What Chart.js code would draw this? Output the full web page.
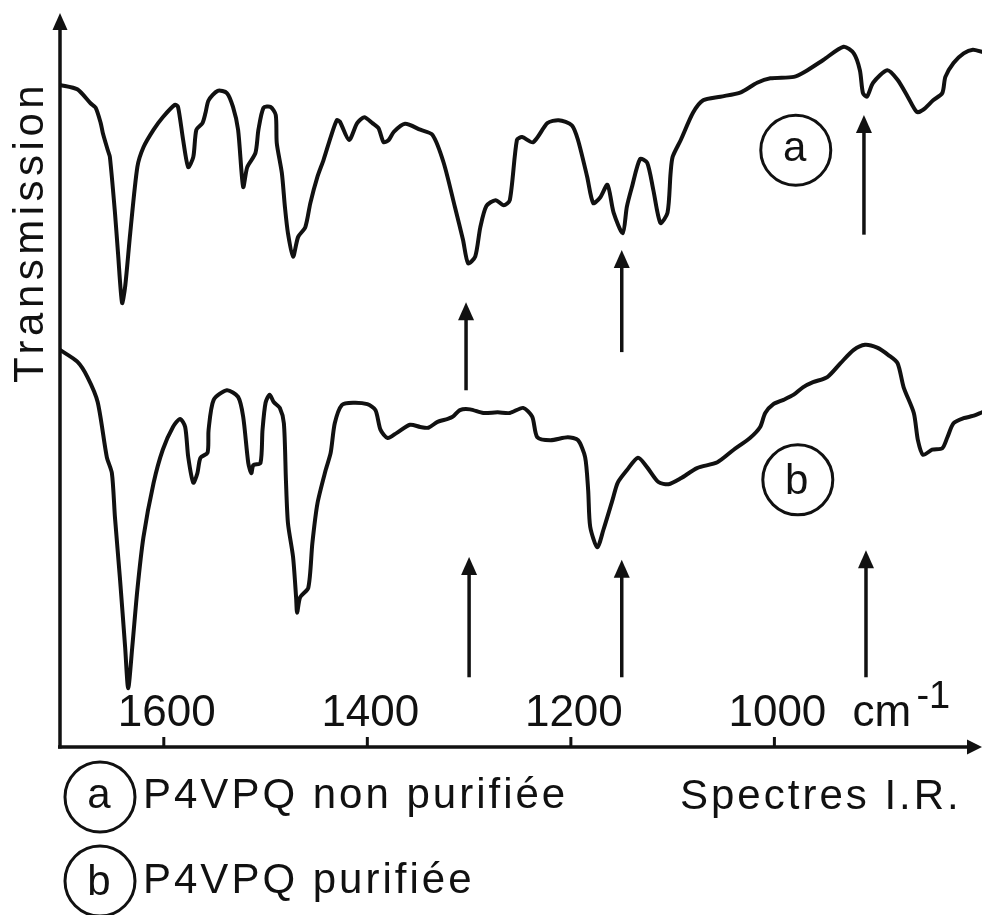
<!DOCTYPE html>
<html>
<head>
<meta charset="utf-8">
<title>Spectres I.R.</title>
<script src="https://cdn.jsdelivr.net/npm/chart.js@4/dist/chart.umd.min.js"></script>
<style>
    html, body { margin: 0; padding: 0; background: #fff; overflow: hidden; }
    canvas { display: block; }
</style>
</head>
<body>
<canvas id="chart" width="982" height="915"></canvas>
<script>
// Spectre a : P4VPQ non purifiée (nombre d'onde en cm-1, transmission en unités arbitraires)
const waveA = [
    1702, 1685, 1672, 1667, 1662, 1660, 1655, 1653, 1648, 1645,
    1641, 1638, 1633, 1626, 1620, 1610, 1601, 1589, 1586, 1581,
    1576, 1571, 1568, 1562, 1559, 1556, 1547, 1538, 1532, 1527,
    1522, 1518, 1510, 1507, 1502, 1495, 1490, 1489, 1484, 1481,
    1478, 1473, 1468, 1461, 1456, 1449, 1443, 1436, 1430, 1427,
    1418, 1410, 1403, 1395, 1389, 1384, 1379, 1374, 1363, 1348,
    1336, 1325, 1314, 1306, 1301, 1294, 1289, 1283, 1274, 1266,
    1260, 1253, 1248, 1237, 1223, 1212, 1199, 1193, 1184, 1178,
    1171, 1164, 1158, 1149, 1145, 1140, 1132, 1125, 1119, 1112,
    1105, 1102, 1100, 1092, 1080, 1070, 1053, 1033, 1017, 1004,
    981, 970, 952, 932, 922, 916, 913, 909, 903, 889,
    879, 869, 860, 854, 844, 835, 832, 824, 814, 805,
    796
]
const transA = [
    90.2, 89.6, 87.7, 87.1, 85.0, 83.7, 81.3, 80.4, 72.8, 67.3,
    60.5, 62.7, 70.0, 79.0, 81.7, 84.1, 85.8, 87.5, 87.2, 82.7,
    79.0, 80.4, 84.1, 85.0, 86.4, 88.1, 89.4, 89.1, 87.2, 84.1,
    76.3, 79.0, 80.9, 84.1, 87.1, 87.2, 86.1, 82.3, 78.2, 73.6,
    70.0, 66.8, 69.5, 70.8, 74.1, 77.7, 80.0, 83.1, 85.4, 85.2,
    82.7, 85.0, 85.8, 85.0, 84.3, 82.4, 82.7, 83.8, 84.9, 84.1,
    83.4, 79.6, 73.6, 69.1, 65.9, 66.8, 70.8, 73.7, 74.5, 73.8,
    74.5, 82.7, 83.1, 82.4, 85.0, 85.4, 84.7, 82.7, 77.7, 74.1,
    74.9, 76.6, 72.8, 70.0, 73.6, 76.3, 80.1, 79.6, 75.9, 71.4,
    72.8, 78.2, 80.4, 82.7, 86.4, 88.1, 88.6, 89.2, 90.5, 91.1,
    91.3, 92.0, 93.6, 95.4, 94.5, 92.2, 89.1, 88.6, 90.5, 92.2,
    90.9, 88.6, 86.5, 86.8, 88.1, 89.1, 91.3, 93.2, 94.5, 95.0,
    94.7
]

// Spectre b : P4VPQ purifiée
const waveB = [
    1702, 1685, 1675, 1665, 1656, 1651, 1648, 1643, 1638, 1635,
    1631, 1626, 1620, 1610, 1601, 1591, 1584, 1579, 1576, 1571,
    1567, 1564, 1557, 1556, 1551, 1538, 1527, 1522, 1517, 1514,
    1512, 1505, 1503, 1500, 1496, 1492, 1486, 1482, 1480, 1478,
    1473, 1470, 1469, 1466, 1458, 1454, 1449, 1441, 1436, 1432,
    1425, 1414, 1400, 1392, 1387, 1380, 1371, 1358, 1348, 1340,
    1331, 1321, 1316, 1309, 1299, 1286, 1272, 1260, 1247, 1238,
    1233, 1220, 1203, 1193, 1186, 1183, 1181, 1174, 1168, 1159,
    1154, 1145, 1134, 1125, 1114, 1104, 1092, 1076, 1056, 1040,
    1024, 1014, 1009, 1001, 991, 981, 972, 962, 948, 935,
    922, 911, 899, 888, 879, 873, 863, 859, 854, 845,
    835, 830, 824, 814, 805, 796
]
const transB = [
    54.1, 52.5, 50.4, 47.0, 39.5, 37.3, 31.3, 22.8, 13.6, 8.0,
    13.6, 21.4, 28.6, 36.0, 40.5, 43.6, 44.7, 43.6, 39.5, 36.0,
    37.3, 39.4, 40.1, 43.2, 47.3, 48.6, 47.7, 45.0, 38.7, 37.3,
    38.4, 38.7, 43.2, 46.9, 48.0, 47.0, 46.2, 44.1, 36.4, 30.5,
    25.9, 20.4, 18.3, 20.4, 21.7, 27.8, 33.2, 37.7, 40.1, 44.1,
    46.6, 46.9, 46.7, 45.9, 43.2, 42.1, 42.8, 43.9, 43.6, 43.5,
    44.3, 44.7, 45.0, 45.9, 46.0, 45.5, 45.6, 45.5, 46.2, 45.0,
    42.2, 41.8, 42.2, 41.8, 39.5, 35.0, 30.0, 27.2, 29.6, 33.7,
    36.0, 37.7, 39.4, 38.1, 36.1, 35.8, 36.6, 38.0, 38.8, 40.5,
    42.1, 43.6, 45.5, 46.7, 47.3, 48.0, 49.0, 49.7, 50.4, 52.3,
    54.1, 54.8, 54.4, 53.4, 52.3, 49.0, 45.5, 41.8, 39.8, 40.5,
    40.7, 42.2, 44.1, 44.8, 45.1, 45.6
]

// Bandes signalées par des flèches (pied et pointe en transmission)
const arrowWaveA = [1303, 1150, 912]
const arrowTailA = [48.6, 53.8, 69.8]
const arrowTipA = [60.6, 67.7, 86.1]
const arrowWaveB = [1300, 1150, 910]
const arrowTailB = [9.5, 9.5, 9.5]
const arrowTipB = [25.9, 25.5, 26.8]

// Repères cerclés posés à côté de chaque courbe
const tagKeys = ['a', 'b']
const tagWave = [979, 977]
const tagTrans = [81.3, 36.4]

const seriesNames = ['P4VPQ non purifiée', 'P4VPQ purifiée']
const tickValues = [1600, 1400, 1200, 1000]
const tickLabels = ['1600', '1400', '1200', '1000']
const xUnit = 'cm'
const yTitle = 'Transmission'
const chartTitle = 'Spectres I.R.'

const INK = '#111'
const FONT = '"Liberation Sans", Arial, sans-serif'

const toPoints = (xs, ys) => xs.map((x, i) => ({ x, y: ys[i] }))

function setSpacing(ctx, px) {
    if ('letterSpacing' in ctx) ctx.letterSpacing = px + 'px'
}

function drawArrow(ctx, x, yTail, yTip) {
    const head = 18
    ctx.beginPath()
    ctx.moveTo(x, yTail)
    ctx.lineTo(x, yTip + head - 2)
    ctx.stroke()
    ctx.beginPath()
    ctx.moveTo(x, yTip)
    ctx.lineTo(x - 8, yTip + head)
    ctx.lineTo(x + 8, yTip + head)
    ctx.closePath()
    ctx.fill()
}

function drawTag(ctx, cx, cy, key) {
    ctx.beginPath()
    ctx.arc(cx, cy, 35, 0, Math.PI * 2)
    ctx.stroke()
    ctx.textAlign = 'center'
    ctx.textBaseline = 'alphabetic'
    setSpacing(ctx, 0)
    ctx.font = '42px ' + FONT
    ctx.fillText(key, cx - 1, cy + (key === 'a' ? 11 : 14))
}

// axes fléchés, graduations, flèches, repères et légende
const spectrumDecor = {
    id: 'spectrumDecor',
    afterDatasetsDraw(chart) {
        const { ctx, chartArea: area, scales: { x, y } } = chart
        ctx.save()
        ctx.strokeStyle = INK
        ctx.fillStyle = INK
        ctx.lineCap = 'butt'

        // axe vertical
        ctx.lineWidth = 3.5
        ctx.beginPath()
        ctx.moveTo(area.left, area.bottom + 1.5)
        ctx.lineTo(area.left, area.top + 14)
        ctx.stroke()
        ctx.beginPath()
        ctx.moveTo(area.left, area.top)
        ctx.lineTo(area.left - 7.5, area.top + 17)
        ctx.lineTo(area.left + 7.5, area.top + 17)
        ctx.closePath()
        ctx.fill()

        // axe horizontal
        ctx.beginPath()
        ctx.moveTo(area.left - 2, area.bottom)
        ctx.lineTo(area.right - 12, area.bottom)
        ctx.stroke()
        ctx.beginPath()
        ctx.moveTo(area.right, area.bottom)
        ctx.lineTo(area.right - 15, area.bottom - 7.5)
        ctx.lineTo(area.right - 15, area.bottom + 7.5)
        ctx.closePath()
        ctx.fill()

        // graduations et valeurs
        ctx.font = '44px ' + FONT
        ctx.textAlign = 'center'
        ctx.textBaseline = 'alphabetic'
        setSpacing(ctx, 0)
        ctx.lineWidth = 3
        tickValues.forEach((v, i) => {
            const px = x.getPixelForValue(v)
            ctx.beginPath()
            ctx.moveTo(px, area.bottom)
            ctx.lineTo(px, area.bottom - 10)
            ctx.stroke()
            ctx.fillText(tickLabels[i], px + 3, area.bottom - 21)
        })
        const lastPx = x.getPixelForValue(tickValues[tickValues.length - 1])
        ctx.textAlign = 'left'
        ctx.fillText(xUnit, lastPx + 78, area.bottom - 21)
        ctx.font = '38px ' + FONT
        ctx.fillText('-1', lastPx + 142, area.bottom - 39)

        // titre de l'axe vertical
        ctx.save()
        ctx.translate(43, 383)
        ctx.rotate(-Math.PI / 2)
        ctx.font = '42px ' + FONT
        setSpacing(ctx, 4.5)
        ctx.textAlign = 'left'
        ctx.fillText(yTitle, 0, 0)
        ctx.restore()

        // flèches
        ctx.lineWidth = 3.5
        arrowWaveA.forEach((v, i) => {
            drawArrow(ctx, x.getPixelForValue(v), y.getPixelForValue(arrowTailA[i]), y.getPixelForValue(arrowTipA[i]))
        })
        arrowWaveB.forEach((v, i) => {
            drawArrow(ctx, x.getPixelForValue(v), y.getPixelForValue(arrowTailB[i]), y.getPixelForValue(arrowTipB[i]))
        })

        // repères a et b
        ctx.lineWidth = 3
        tagKeys.forEach((k, i) => {
            drawTag(ctx, x.getPixelForValue(tagWave[i]), y.getPixelForValue(tagTrans[i]), k)
        })

        // légende sous l'axe
        const rows = [797, 881]
        tagKeys.forEach((k, i) => {
            ctx.lineWidth = 3
            drawTag(ctx, 100, rows[i], k)
            ctx.font = '42px ' + FONT
            setSpacing(ctx, 3)
            ctx.textAlign = 'left'
            ctx.fillText(seriesNames[i], 143, rows[i] + 11 + i * 1)
        })
        ctx.fillText(chartTitle, 680, rows[0] + 12)

        ctx.restore()
    }
}

const lineStyle = {
    borderColor: INK,
    borderWidth: 4,
    pointRadius: 0,
    tension: 0.25,
    borderJoinStyle: 'round',
    borderCapStyle: 'round',
    fill: false
}

const ctx = document.getElementById('chart').getContext('2d')
const spectraChart = new Chart(ctx, {
    type: 'line',
    data: {
        datasets: [
            { label: seriesNames[0], data: toPoints(waveA, transA), ...lineStyle },
            { label: seriesNames[1], data: toPoints(waveB, transB), ...lineStyle }
        ]
    },
    options: {
        responsive: false,
        animation: false,
        parsing: true,
        layout: { padding: { left: 60, right: 0, top: 13, bottom: 168 } },
        plugins: {
            legend: { display: false },
            tooltip: { enabled: false }
        },
        scales: {
            x: { type: 'linear', reverse: true, min: 796, max: 1702, display: false },
            y: { type: 'linear', min: 0, max: 100, display: false }
        }
    },
    plugins: [spectrumDecor]
})
</script>
</body>
</html>
